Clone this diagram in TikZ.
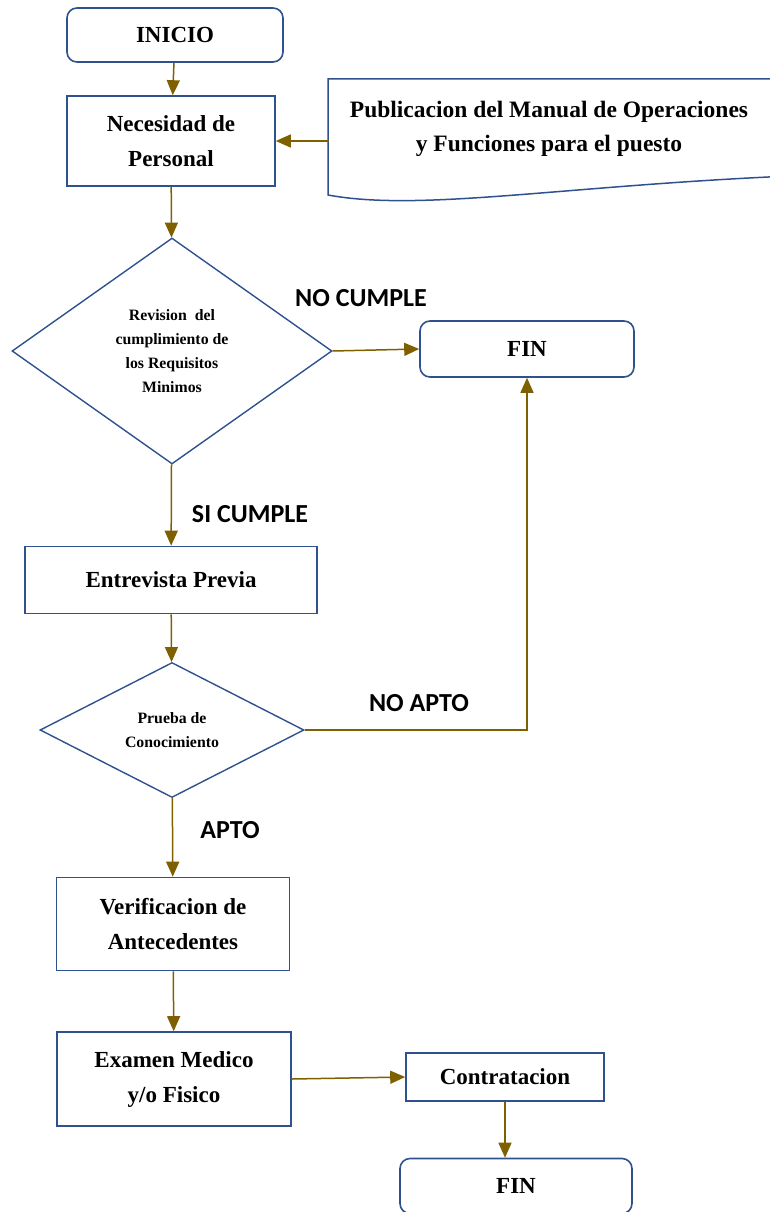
\documentclass[tikz,border=0pt]{standalone}
\usepackage{fontspec}
\setmainfont{Liberation Serif}
\newfontfamily\labelfont{Carlito}
\usetikzlibrary{arrows.meta,positioning,shapes.geometric}
\definecolor{navy}{HTML}{2F528F}
\definecolor{olive}{HTML}{7F6000}
\colorlet{outline}{navy}
\colorlet{link}{olive}
\tikzset{
  boxtext/.style={font=\fontsize{23}{35}\selectfont\bfseries,align=center},
  procbox/.style={draw=outline,line width=1.6pt,fill=white,boxtext,inner sep=0pt},
  endbox/.style={procbox,rounded corners=10pt},
  decision/.style={diamond,draw=outline,line width=1.4pt,fill=white,inner sep=0pt,
    align=center,font=\fontsize{15.8}{24}\selectfont\bfseries},
  answer/.style={font=\labelfont\fontsize{26}{30}\selectfont\bfseries},
  flow/.style={link,line width=1.5pt,-{Triangle[length=15pt,width=13pt]}},
}
\begin{document}
\begin{tikzpicture}[x=1pt,y=-1pt]
    \useasboundingbox (0,0) rectangle (769,1212);

    \node[endbox,minimum width=216pt,minimum height=54pt] (inicio) at (175,35) {INICIO};
    \node[procbox,minimum width=208pt,minimum height=90pt] (nec) at (171,141) {Necesidad de\\Personal};

    % documento de la derecha
    \draw[outline,line width=1.5pt,fill=white] (790,79) -- (328,79) -- (328,195)
      .. controls (420,212) and (560,186) .. (790,176);
    \node[boxtext,font=\fontsize{23.5}{34}\selectfont\bfseries,minimum width=440pt,minimum height=94pt] (pub) at (549,129)
      {Publicacion del Manual de Operaciones\\y Funciones para el puesto};

    \node[decision,minimum width=320pt,minimum height=226pt] (rev) at (172,351)
      {Revision\ \ del\\cumplimiento de\\los Requisitos\\Minimos};
    \node[endbox,minimum width=214pt,minimum height=56pt] (fin1) at (527,349) {FIN};
    \node[answer] (nocumple) at (361,298) {NO CUMPLE};
    \node[answer] (sicumple) at (250,514) {SI CUMPLE};

    \node[procbox,minimum width=292pt,minimum height=67pt] (entre) at (171,580) {Entrevista Previa};
    \node[decision,minimum width=264pt,minimum height=135pt] (prueba) at (172,730)
      {Prueba de\\Conocimiento};
    \node[answer] (noapto) at (419,703) {NO APTO};
    \node[answer] (apto) at (230,830) {APTO};

    \node[procbox,minimum width=233pt,minimum height=93pt] (verif) at (173,924) {Verificacion de\\Antecedentes};
    \node[procbox,minimum width=234pt,minimum height=94pt] (exam) at (174,1079) {Examen Medico\\y/o Fisico};
    \node[procbox,minimum width=198pt,minimum height=48pt] (contr) at (505,1077) {Contratacion};
    \node[endbox,minimum width=232pt,minimum height=55pt] (fin2) at (516,1186) {FIN};

    % conexiones
    \draw[flow] (inicio) -- (nec);
    \draw[flow] (pub.west |- nec) -- (nec.east);
    \draw[flow] (nec) -- (rev);
    \draw[flow] (rev.east) -- (fin1.west);
    \draw[flow] (rev) -- (entre);
    \draw[flow] (entre) -- (prueba);
    \draw[flow] (prueba.east) -| (fin1.south);
    \draw[flow] (prueba) -- (verif);
    \draw[flow] (verif) -- (exam);
    \draw[flow] (exam.east) -- (contr.west);
    \draw[flow] (contr.south) -- (contr.south |- fin2.north);
\end{tikzpicture}
\end{document}
